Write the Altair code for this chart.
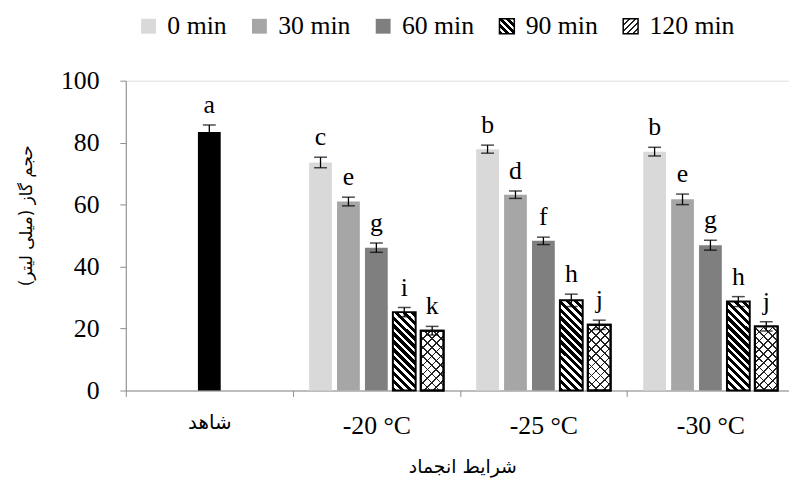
import altair as alt
import pandas as pd

# ---------------- data ----------------
categories = ["شاهد", "-20 °C", "-25 °C", "-30 °C"]
series = ["0 min", "30 min", "60 min", "90 min", "120 min"]
series_colors = ["#d9d9d9", "#a6a6a6", "#7f7f7f", "#000000", "#ffffff"]

control_value = 83.4
control_error = 2.3
control_letter = "a"

means_20 = [73.6, 61.0, 46.1, 25.3, 19.3]
means_25 = [77.9, 63.2, 48.3, 29.1, 21.2]
means_30 = [77.1, 61.7, 46.9, 28.7, 20.7]
errors_20 = [1.7, 1.4, 1.5, 1.5, 1.4]
errors_25 = [1.3, 1.2, 1.2, 2.0, 1.5]
errors_30 = [1.4, 1.7, 1.6, 1.6, 1.5]
letters_20 = ["c", "e", "g", "i", "k"]
letters_25 = ["b", "d", "f", "h", "j"]
letters_30 = ["b", "e", "g", "h", "j"]

y_title = "حجم گاز (میلی لیتر)"
x_title = "شرایط انجماد"

# ---------------- table ----------------
rows = [{"cat": categories[0], "series": series[2], "value": control_value,
         "err": control_error, "letter": control_letter}]
for cat, means, errs, lets in [(categories[1], means_20, errors_20, letters_20),
                               (categories[2], means_25, errors_25, letters_25),
                               (categories[3], means_30, errors_30, letters_30)]:
    for s, m, e, l in zip(series, means, errs, lets):
        rows.append({"cat": cat, "series": s, "value": m, "err": e, "letter": l})
df = pd.DataFrame(rows)
df["lo"] = df["value"] - df["err"]
df["hi"] = df["value"] + df["err"]
df["key"] = df["cat"] + "|" + df["series"]

# ---------------- hatch styles (gradients) ----------------
PX_PER_UNIT = 313 / 100
BAR_W = 23.0


def stripe_gradient(W, H, direction, period, frac, fg, bg):
    a = W * (W + H) / (W * W + H * H)
    if direction == "back":  # "\" stripes
        x1, y1, x2, y2 = 0, 1, a, 1 - a * H / W
    else:  # "/" stripes
        x1, y1, x2, y2 = 0, 0, a, a * H / W
    n = (W + H) / period
    stops = []
    k = 0
    while k / n < 1:
        s = round(k / n, 4)
        e = round(min((k + frac) / n, 1.0), 4)
        stops += [{"offset": s, "color": bg}, {"offset": s, "color": fg},
                  {"offset": e, "color": fg}, {"offset": e, "color": bg}]
        k += 1
    stops.append({"offset": 1, "color": bg})
    return {"gradient": "linear", "x1": round(x1, 4), "y1": round(y1, 4),
            "x2": round(x2, 4), "y2": round(y2, 4), "stops": stops}


def as_expr(g):
    stops = ",".join("{offset:%s,color:'%s'}" % (s["offset"], s["color"]) for s in g["stops"])
    return {"expr": "{gradient:'linear',x1:%s,y1:%s,x2:%s,y2:%s,stops:[%s]}" % (
        g["x1"], g["y1"], g["x2"], g["y2"], stops)}


fill_conditions = [{"test": f"datum.cat === '{categories[0]}'", "value": "black"}]
overlay_conditions = []
for _, r in df.iterrows():
    H = r["value"] * PX_PER_UNIT
    if r["series"] == "90 min":
        fill_conditions.append({"test": f"datum.key === '{r['key']}'",
                                "value": stripe_gradient(BAR_W, H, "back", 8, 0.55, "#000000", "#ffffff")})
    elif r["series"] == "120 min":
        fill_conditions.append({"test": f"datum.key === '{r['key']}'",
                                "value": stripe_gradient(BAR_W, H, "fwd", 9, 0.2, "#222222", "#ffffff")})
        overlay_conditions.append({"test": f"datum.key === '{r['key']}'",
                                   "value": stripe_gradient(BAR_W, H, "back", 9, 0.2, "#222222", "rgba(255,255,255,0)")})

fill_range = [series_colors[0], series_colors[1], series_colors[2],
              as_expr(stripe_gradient(15, 15, "back", 7, 0.55, "#000000", "#ffffff")),
              as_expr(stripe_gradient(15, 15, "fwd", 6, 0.22, "#222222", "#ffffff"))]
stroke_range = ["transparent", "transparent", "transparent", "black", "black"]

SERIF = "Liberation Serif"
ARABIC = "DejaVu Sans"

legend_def = {"orient": "none", "legendX": 10, "legendY": -68, "direction": "horizontal",
              "columns": 5, "title": None, "symbolType": "square", "symbolSize": 225,
              "symbolStrokeWidth": 1.5,
              "labelFont": SERIF, "labelFontSize": 26, "labelColor": "black",
              "labelOffset": 6, "columnPadding": 20, "labelBaseline": "middle"}

x_enc = alt.X("cat:N",
              scale=alt.Scale(domain=categories, range=[0, 675], paddingInner=0, paddingOuter=0),
              axis=alt.Axis(title=x_title, labelAngle=0, tickBand="extent", tickSize=6,
                            labelPadding=16,
                            labelFont={"condition": {"test": f"datum.value === '{categories[0]}'",
                                                     "value": ARABIC}, "value": SERIF},
                            labelFontSize={"condition": {"test": f"datum.value === '{categories[0]}'",
                                                         "value": 20}, "value": 26},
                            labelColor="black",
                            domainColor="#8c8c8c", tickColor="#8c8c8c", grid=False,
                            titleFont=ARABIC, titleFontSize=19, titleFontWeight="normal",
                            titleX=340, titleY=77, titleAlign="center", titleBaseline="middle",
                            titleColor="black"))
xo_enc = alt.XOffset("series:N",
                     scale=alt.Scale(domain=series, paddingInner=0.184, paddingOuter=0.584))
y_axis = alt.Axis(title=y_title, values=[0, 20, 40, 60, 80, 100], tickSize=6, labelPadding=21,
                  labelFont=SERIF, labelFontSize=26, labelColor="black",
                  domainColor="#8c8c8c", tickColor="#8c8c8c", grid=False,
                  titleFont=ARABIC, titleFontSize=17, titleFontWeight="normal",
                  titleX=-100, titleY=136, titleAngle=-90, titleAlign="center",
                  titleBaseline="middle", titleColor="black")
y_scale = alt.Scale(domain=[0, 100], nice=False)

base = alt.Chart(df)

bars = base.mark_bar(strokeWidth=2).encode(
    x=x_enc,
    xOffset=xo_enc,
    y=alt.Y("value:Q", scale=y_scale, axis=y_axis),
    fill={"field": "series", "type": "nominal",
          "scale": {"domain": series, "range": fill_range},
          "legend": legend_def,
          "condition": fill_conditions},
    stroke={"field": "series", "type": "nominal",
            "scale": {"domain": series, "range": stroke_range},
            "legend": legend_def},
)

overlay = base.transform_filter("datum.series === '120 min'").mark_bar(
    stroke="black", strokeWidth=2).encode(
    x=x_enc, xOffset=xo_enc, y=alt.Y("value:Q", scale=y_scale),
    fill={"condition": overlay_conditions, "value": "transparent"},
)

err_rule = base.mark_rule(color="black", strokeWidth=1.3).encode(
    x=x_enc, xOffset=xo_enc, y=alt.Y("lo:Q", scale=y_scale), y2="hi:Q")
cap_hi = base.mark_tick(color="black", size=13, thickness=1.5).encode(
    x=x_enc, xOffset=xo_enc, y=alt.Y("hi:Q", scale=y_scale))
cap_lo = base.mark_tick(color="black", size=13, thickness=1.5).encode(
    x=x_enc, xOffset=xo_enc, y=alt.Y("lo:Q", scale=y_scale))
letters = base.mark_text(font=SERIF, fontSize=26, baseline="alphabetic", dy=-12,
                         color="black").encode(
    x=x_enc, xOffset=xo_enc, y=alt.Y("hi:Q", scale=y_scale), text="letter:N")

chart = alt.layer(bars, overlay, err_rule, cap_hi, cap_lo, letters).properties(
    width=670, height=313,
    autosize=alt.AutoSizeParams(type="none"),
    padding={"left": 119, "top": 71, "right": 0, "bottom": 90},
).configure_view(strokeWidth=0).configure(background="white")

chart.save("out.html", embed_options={"renderer": "svg", "actions": False})
